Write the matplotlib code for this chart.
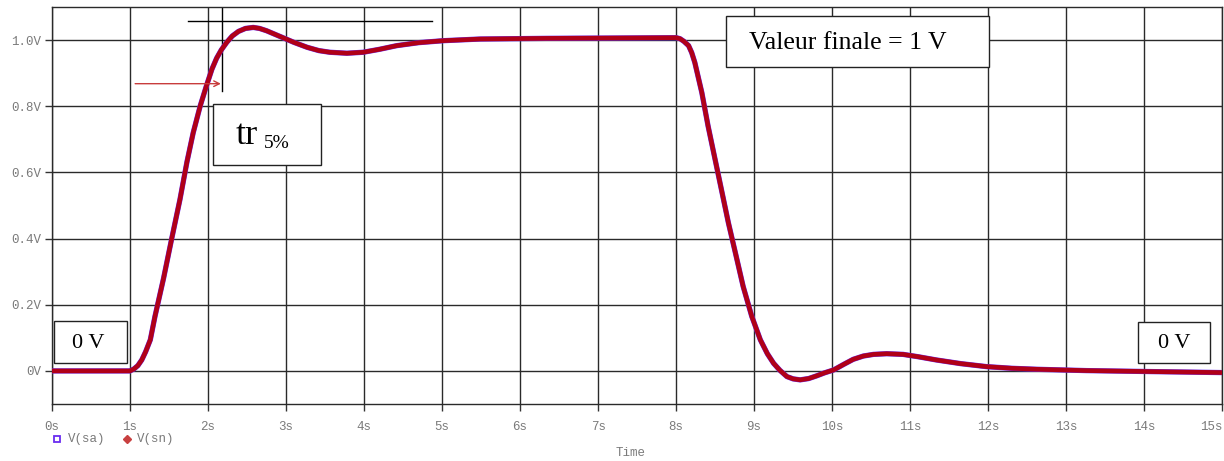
import matplotlib
matplotlib.use("Agg")
import matplotlib.pyplot as plt
from matplotlib.patches import Rectangle
from matplotlib.lines import Line2D

# values (time in s, voltage in V)
time_s = [0.0, 1.0, 1.05, 1.1, 1.15, 1.2, 1.26, 1.32, 1.43, 1.53, 1.64, 1.73, 1.81,
          1.9, 1.98, 2.05, 2.11, 2.17, 2.24, 2.31, 2.39, 2.48, 2.58, 2.66, 2.75,
          2.85, 2.95, 3.1, 3.27, 3.42, 3.56, 3.78, 3.99, 4.2, 4.42, 4.7, 5.02,
          5.49, 6.34, 7.2, 8.0, 8.05, 8.1, 8.16, 8.2, 8.24, 8.33, 8.41, 8.5,
          8.59, 8.67, 8.76, 8.86, 8.97, 9.08, 9.17, 9.25, 9.33, 9.42, 9.5, 9.59,
          9.7, 9.8, 9.9, 10.02, 10.15, 10.27, 10.4, 10.53, 10.7, 10.91, 11.1,
          11.34, 11.65, 11.98, 12.3, 12.62, 13.26, 14.1, 15.0]
v_sn = [0.0, 0.0, 0.006, 0.016, 0.033, 0.058, 0.094, 0.165, 0.28, 0.395, 0.518,
        0.632, 0.72, 0.801, 0.862, 0.912, 0.945, 0.97, 0.993, 1.012, 1.026,
        1.035, 1.038, 1.035, 1.028, 1.018, 1.008, 0.993, 0.978, 0.968, 0.963,
        0.96, 0.963, 0.972, 0.983, 0.992, 0.998, 1.003, 1.005, 1.006, 1.007,
        1.004, 0.996, 0.983, 0.962, 0.932, 0.841, 0.74, 0.639, 0.538, 0.448,
        0.357, 0.255, 0.165, 0.094, 0.052, 0.023, 0.002, -0.017, -0.024,
        -0.027, -0.023, -0.015, -0.006, 0.003, 0.02, 0.035, 0.045, 0.05, 0.052,
        0.05, 0.043, 0.033, 0.022, 0.013, 0.008, 0.005, 0.001, -0.002, -0.005]
v_sa = list(v_sn)  # the two traces overlap on the picture

x_ticks = list(range(0, 16))
x_labels = [f"{t}s" for t in x_ticks]
y_ticks = [0.0, 0.2, 0.4, 0.6, 0.8, 1.0]
y_labels = ["0V", "0.2V", "0.4V", "0.6V", "0.8V", "1.0V"]
legend_names = ["V(sa)", "V(sn)"]

mono = "Liberation Mono"
serif = "Liberation Serif"
grey = "#7a7a7a"
purple = "#6a2cf0"
red = "#b00018"

fig = plt.figure(figsize=(12.24, 4.61), dpi=100)
ax = fig.add_axes([0.0425, 0.1236, 0.956, 0.8614])

ax.plot(time_s, v_sa, color=purple, lw=3.8, solid_capstyle="butt", zorder=3)
ax.plot(time_s, v_sn, color=red, lw=3.3, solid_capstyle="butt", zorder=4)

ax.set_xlim(0, 15)
ax.set_ylim(-0.1, 1.1)
ax.set_xticks(x_ticks)
ax.set_xticklabels(x_labels, family=mono, fontsize=9, color=grey)
ax.get_xticklabels()[-1].set_horizontalalignment("right")
ax.set_yticks(y_ticks)
ax.set_yticklabels(y_labels, family=mono, fontsize=9, color=grey)
ax.tick_params(direction="out", length=5, width=1, color="#333333")
ax.tick_params(axis="y", pad=3)
ax.tick_params(axis="x", pad=7)
ax.grid(True, color="#2a2a2a", lw=1.0)
for s in ax.spines.values():
    s.set_color("#2a2a2a")
    s.set_linewidth(1.0)

# 5 % band line and tr marker
ax.plot([1.74, 4.87], [1.058, 1.058], color="black", lw=1, zorder=2)
ax.plot([2.18, 2.18], [0.845, 1.1], color="black", lw=1, zorder=2)
ax.annotate("", xy=(2.2, 0.868), xytext=(1.03, 0.868),
            arrowprops=dict(arrowstyle="->", color="#c83c3c", lw=1), zorder=5)

# text boxes
boxes = [(0.026, 0.024, 0.934, 0.128), (13.92, 0.024, 0.93, 0.124),
         (2.06, 0.621, 1.39, 0.185), (8.64, 0.918, 3.37, 0.155)]
for x0, y0, w, h in boxes:
    ax.add_patch(Rectangle((x0, y0), w, h, facecolor="white", edgecolor="#222222",
                           lw=1.0, zorder=6))

ax.text(0.47, 0.083, "0 V", family=serif, fontsize=16, ha="center", va="center", zorder=7)
ax.text(14.38, 0.083, "0 V", family=serif, fontsize=16, ha="center", va="center", zorder=7)
ax.text(10.2, 0.99, "Valeur finale = 1 V", family=serif, fontsize=18.5,
        ha="center", va="center", zorder=7)
ax.text(2.35, 0.685, "tr", family=serif, fontsize=26, ha="left", va="baseline", zorder=7)
ax.text(2.72, 0.675, "5%", family=serif, fontsize=14, ha="left", va="baseline", zorder=7)

# legend below the axes, PSpice style
ly = 1 - 439 / 461
fig.add_artist(Line2D([0.0463], [ly], transform=fig.transFigure, ls="none", marker="s",
                      ms=4, mfc="none", mec=purple, mew=1.3))
fig.add_artist(Line2D([0.1035], [ly], transform=fig.transFigure, ls="none", marker="D",
                      ms=4, mfc="#c84040", mec="#c84040"))
fig.text(0.0556, ly, legend_names[0], family=mono, fontsize=9, color=grey, va="center")
fig.text(0.1119, ly, legend_names[1], family=mono, fontsize=9, color=grey, va="center")
fig.text(0.5155, 1 - 453 / 461, "Time", family=mono, fontsize=9, color=grey,
         ha="center", va="center")

fig.savefig("out.png", dpi=100)
